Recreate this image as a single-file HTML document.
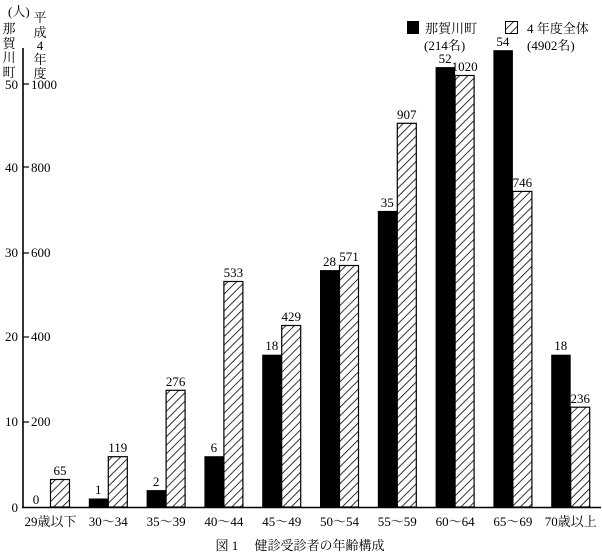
<!DOCTYPE html>
<html><head><meta charset="utf-8"><style>body{margin:0;background:#fff}svg{display:block}text{font-family:"Liberation Serif","Noto Serif CJK JP",serif;fill:#000}</style></head><body>
<svg width="602" height="553" viewBox="0 0 602 553" xmlns="http://www.w3.org/2000/svg">
<defs><pattern id="h" patternUnits="userSpaceOnUse" width="6" height="6" patternTransform="rotate(45)"><rect width="6" height="6" fill="#fff"/><line x1="0" y1="0" x2="0" y2="6" stroke="#000" stroke-width="1.6"/></pattern></defs>
<text x="8" y="16" font-size="13">(人)</text>
<g font-size="13" text-anchor="middle">
<text x="9" y="33">那</text><text x="9" y="48">賀</text><text x="9" y="62">川</text><text x="9" y="77">町</text>
<text x="40" y="22">平</text><text x="40" y="37">成</text><text x="40" y="50">4</text><text x="40" y="64">年</text><text x="40" y="78">度</text>
</g>
<line x1="23" y1="48" x2="23" y2="508" stroke="#000" stroke-width="1.6"/>
<line x1="22" y1="507.5" x2="601" y2="507.5" stroke="#000" stroke-width="1.6"/>
<g font-size="13">
<g text-anchor="end"><text x="18" y="89">50</text><text x="18" y="172">40</text><text x="18" y="257">30</text><text x="18" y="341">20</text><text x="18" y="426">10</text><text x="18" y="512">0</text></g>
<text x="31" y="89">1000</text><text x="31" y="172">800</text><text x="31" y="257">600</text><text x="31" y="341">400</text><text x="31" y="426">200</text>
</g>
<g stroke="#000" stroke-width="1.2"><line x1="23" y1="84" x2="29" y2="84"/><line x1="23" y1="167" x2="29" y2="167"/><line x1="23" y1="253" x2="29" y2="253"/><line x1="23" y1="337" x2="29" y2="337"/><line x1="23" y1="422" x2="29" y2="422"/></g>
<g fill="#000">
<rect x="88.8" y="498.5" width="19.5" height="8.5"/>
<rect x="146.6" y="490.1" width="19.5" height="16.9"/>
<rect x="204.4" y="456.2" width="19.5" height="50.8"/>
<rect x="262.2" y="354.7" width="19.5" height="152.3"/>
<rect x="320" y="270.1" width="19.5" height="236.9"/>
<rect x="377.8" y="210.9" width="19.5" height="296.1"/>
<rect x="435.6" y="67.1" width="19.5" height="439.9"/>
<rect x="493.4" y="50.2" width="19.5" height="456.8"/>
<rect x="551.2" y="354.7" width="19.5" height="152.3"/>
</g>
<g fill="url(#h)" stroke="#000" stroke-width="1.2">
<rect x="50.5" y="479.5" width="19" height="27.5"/>
<rect x="108.3" y="456.7" width="19" height="50.3"/>
<rect x="166.1" y="390.3" width="19" height="116.7"/>
<rect x="223.9" y="281.5" width="19" height="225.5"/>
<rect x="281.7" y="325.5" width="19" height="181.5"/>
<rect x="339.5" y="265.5" width="19" height="241.5"/>
<rect x="397.3" y="123.3" width="19" height="383.7"/>
<rect x="455.1" y="75.5" width="19" height="431.5"/>
<rect x="512.9" y="191.4" width="19" height="315.6"/>
<rect x="570.7" y="407.2" width="19" height="99.8"/>
</g>
<g font-size="13" text-anchor="middle">
<text x="36" y="504">0</text>
<text x="98.3" y="494">1</text>
<text x="156.1" y="486">2</text>
<text x="213.9" y="452">6</text>
<text x="271.7" y="350">18</text>
<text x="329.5" y="266">28</text>
<text x="387.3" y="207">35</text>
<text x="445.1" y="63">52</text>
<text x="502.9" y="46">54</text>
<text x="560.7" y="350">18</text>
<text x="60" y="475">65</text>
<text x="117.8" y="452">119</text>
<text x="175.6" y="386">276</text>
<text x="233.4" y="277">533</text>
<text x="291.2" y="321">429</text>
<text x="349" y="261">571</text>
<text x="406.8" y="119">907</text>
<text x="464.6" y="71">1020</text>
<text x="522.4" y="187">746</text>
<text x="580.2" y="403">236</text>
</g>
<g font-size="13" text-anchor="middle">
<text x="50.5" y="526">29歳以下</text>
<text x="108.3" y="526">30〜34</text>
<text x="166.1" y="526">35〜39</text>
<text x="223.9" y="526">40〜44</text>
<text x="281.7" y="526">45〜49</text>
<text x="339.5" y="526">50〜54</text>
<text x="397.3" y="526">55〜59</text>
<text x="455.1" y="526">60〜64</text>
<text x="512.9" y="526">65〜69</text>
<text x="570.7" y="526">70歳以上</text>
</g>
<rect x="407" y="21" width="12" height="13" fill="#000"/>
<text x="425" y="33" font-size="13">那賀川町</text><text x="424" y="50" font-size="13">(214名)</text>
<rect x="505.5" y="21.5" width="12" height="12" fill="url(#h)" stroke="#000"/>
<text x="527" y="33" font-size="13">4 年度全体</text><text x="527" y="50" font-size="13">(4902名)</text>
<text x="300" y="550" font-size="13" text-anchor="middle">図 1　 健診受診者の年齢構成</text>
</svg>
</body></html>
